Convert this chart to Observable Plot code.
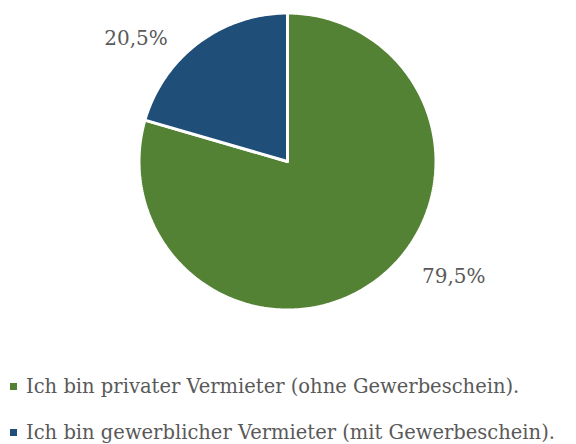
<!DOCTYPE html>
<html>
<head>
<meta charset="utf-8">
<script src="https://cdn.jsdelivr.net/npm/d3@7"></script>
<script src="https://cdn.jsdelivr.net/npm/@observablehq/plot@0.6"></script>
<style>
  html, body { margin: 0; padding: 0; background: #fff; }
  #wrap { position: relative; width: 576px; height: 444px; overflow: hidden; font-family: "DejaVu Serif", serif; }
  #chart svg { display: block; }
  .item { position: absolute; left: 10px; height: 24px; display: flex; align-items: center; color: #595959; font-size: 19.5px; white-space: nowrap; }
  .sw { width: 7px; height: 7px; margin-right: 9px; flex: none; }
</style>
</head>
<body>
<div id="wrap">
  <div id="chart"></div>
  <div id="legend"></div>
</div>
<script>
const categories = ["Ich bin privater Vermieter (ohne Gewerbeschein).", "Ich bin gewerblicher Vermieter (mit Gewerbeschein)."];
const values = [79.5, 20.5];
const valueLabels = ["79,5%", "20,5%"];
const colors = ["#548235", "#1F4E79"];

// geometry of slices derived from the values
const arcs = d3.pie().sort(null).value(d => d)(values);
const pts = [];
arcs.forEach((a, i) => {
  const cat = categories[i];
  pts.push({x: 0, y: 0, cat});
  const n = Math.max(2, Math.ceil((a.endAngle - a.startAngle) / (Math.PI * 2) * 400));
  for (let k = 0; k <= n; k++) {
    const t = a.startAngle + (a.endAngle - a.startAngle) * k / n;
    pts.push({x: Math.sin(t), y: Math.cos(t), cat});
  }
  pts.push({x: 0, y: 0, cat});
});

// label layout (unit-circle coordinates)
const labelPos = [{x: 1.12, y: -0.775}, {x: -1.02, y: 0.83}];
const labels = valueLabels.map((t, i) => ({t, x: labelPos[i].x, y: labelPos[i].y}));

const chart = Plot.plot({
  width: 576,
  height: 360,
  margin: 0,
  x: {domain: [-1, 1], range: [138.5, 435.5], axis: null},
  y: {domain: [-1, 1], range: [309.5, 12.5], axis: null},
  color: {domain: categories, range: colors},
  marks: [
    Plot.line(pts, {x: "x", y: "y", z: "cat", fill: "cat", stroke: "white", strokeWidth: 3, strokeLinejoin: "miter", curve: "linear"}),
    Plot.text(labels, {x: "x", y: "y", text: "t", fontSize: 20, fill: "#595959", fontFamily: "DejaVu Serif, serif", textAnchor: "middle"})
  ]
});
document.getElementById("chart").appendChild(chart);

const legend = document.getElementById("legend");
const tops = [374, 420];
categories.forEach((c, i) => {
  const d = document.createElement("div");
  d.className = "item";
  d.style.top = tops[i] + "px";
  const s = document.createElement("span");
  s.className = "sw";
  s.style.background = colors[i];
  d.appendChild(s);
  d.appendChild(document.createTextNode(c));
  legend.appendChild(d);
});
</script>
</body>
</html>
